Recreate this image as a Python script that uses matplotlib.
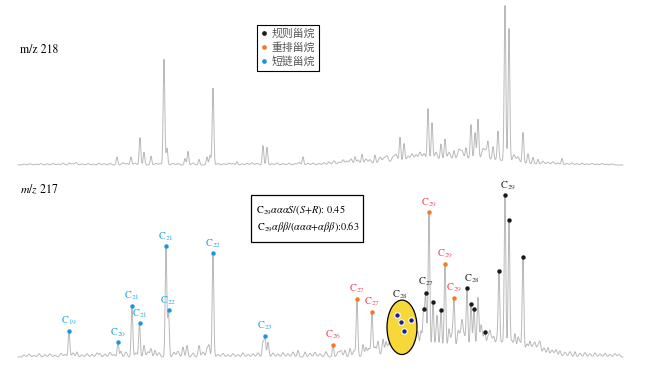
import numpy as np
import matplotlib.pyplot as plt
from matplotlib.patches import Ellipse, Rectangle
from matplotlib.lines import Line2D

plt.rcParams['font.family'] = ['STIXGeneral', 'Noto Sans CJK SC']
plt.rcParams['mathtext.fontset'] = 'stix'

# ---------------- m/z 218 trace ----------------
top_rt = [69, 117, 131, 140, 144, 151, 164, 167, 185, 188, 199, 207, 210, 213, 237,
          263, 267, 303, 355, 362, 375, 400, 404, 428, 432, 441, 445, 454, 466, 471,
          475, 478, 488, 493, 498, 505, 509, 523, 528, 533, 538, 562]
top_h = [1.3, 5, 5, 17, 8, 5.5, 66, 10.5, 4, 8.5, 3.5, 5, 6, 48, 2,
         12, 11, 5, 4.5, 6, 5, 15, 11, 32, 23, 9.5, 12.5, 5, 6.5, 21,
         16, 24.5, 9.5, 8, 18, 97, 83, 19, 6, 4, 3, 4]
top_grass_rt = [24, 30, 36, 41, 47, 53, 58, 63, 72, 76, 82, 88, 93, 99, 104, 110, 123,
                127, 135, 156, 160, 173, 178, 193, 218, 224, 229, 233, 242, 247, 252,
                257, 272, 277, 283, 289, 295, 299, 308, 313, 319, 324, 329, 334, 339,
                343, 347, 351, 358, 366, 370, 380, 384, 387, 393, 396, 408, 412, 416,
                420, 424, 436, 449, 459, 462, 483, 486, 514, 518, 543, 548, 553, 558,
                567, 572, 577, 582, 587, 592, 597, 602, 607, 612, 617]
top_grass_h = [0.6, 0.8, 0.5, 0.9, 0.7, 1.0, 0.6, 1.2, 0.8, 1.5, 0.7, 0.9, 0.6, 1.1, 0.8,
               1.0, 1.4, 0.9, 1.2, 1.0, 0.8, 1.1, 0.9, 1.3, 1.0, 0.8, 1.2, 0.9, 0.7, 1.0,
               1.4, 1.1, 0.8, 1.3, 0.9, 1.2, 0.8, 1.5, 1.0, 1.2, 0.9, 1.4, 1.8, 2.5, 1.6,
               3.0, 2.2, 3.4, 2.6, 3.0, 2.4, 3.6, 2.8, 4.0, 3.2, 4.5, 3.0, 4.2, 3.5, 5.0,
               4.0, 4.5, 4.0, 5.5, 4.5, 6.0, 5.0, 4.5, 3.5, 2.0, 1.5, 1.8, 1.2, 1.0, 1.3,
               0.8, 1.1, 0.7, 1.0, 0.6, 0.9, 0.5, 0.7]
top_hump_rt = [420, 480]
top_hump_h = [2.5, 3.5]
top_hump_w = [35, 30]

# ---------------- m/z 217 trace ----------------
# marked steranes: retention, height, group
mk_rt = [69, 118, 132, 139.5, 166, 168.5, 213, 265,
         333, 357, 372, 429, 445, 454,
         423.5, 425.5, 433, 441, 467, 471, 474, 485, 499, 505, 509, 523,
         397, 401, 404, 411]
mk_h = [16, 9, 31, 20.5, 67, 28, 63, 12,
        7.5, 35, 26, 81, 51, 28,
        23, 30, 28, 23, 35, 26, 23, 8, 46, 94, 79, 57,
        20, 17, 12, 18]
mk_cls = ['short'] * 8 + ['rearr'] * 6 + ['reg'] * 12 + ['circ'] * 4

bot_rt = [77, 100, 121, 144, 151, 155, 183, 187, 199, 207, 209, 263, 268, 298, 305,
          345, 350, 363, 366, 378, 383, 386, 392, 395, 399, 407, 414, 418, 421, 437,
          449, 458, 462, 478, 481, 490, 494, 515, 518, 530, 535, 540, 548, 560, 575]
bot_h = [3, 2, 3.5, 7, 5, 4, 6, 7, 7, 5, 7, 9, 9, 4, 3,
         4, 5, 7, 5, 8, 9, 7, 10, 14, 11, 9, 7, 9, 11, 14,
         11, 8, 13, 30, 12, 8, 6, 10, 7, 6, 5, 6, 4, 3, 3]
bot_grass_rt = [24, 29, 34, 39, 45, 50, 55, 61, 65, 73, 82, 87, 92, 97, 105, 110, 114,
                126, 136, 148, 159, 174, 178, 193, 203, 218, 223, 228, 233, 238, 243,
                248, 253, 258, 273, 278, 283, 288, 293, 310, 315, 320, 326, 338, 341,
                354, 369, 375, 389, 416, 427, 437, 452, 460, 464, 483, 488, 492, 497,
                502, 512, 520, 527, 533, 538, 544, 552, 556, 565, 570, 580, 585, 590,
                595, 600, 605, 610, 615, 619]
bot_grass_h = [1.2, 1.8, 1.0, 2.0, 1.4, 1.9, 1.1, 2.2, 1.5, 2.5, 1.3, 2.0, 1.6, 2.4, 1.8,
               2.8, 1.5, 3.0, 2.5, 3.2, 2.6, 2.8, 3.5, 2.4, 3.0, 1.6, 2.2, 1.4, 2.0, 1.5,
               2.4, 1.6, 2.0, 2.6, 2.4, 1.8, 2.6, 2.0, 3.0, 2.2, 2.8, 2.0, 3.2, 3.0, 3.8,
               3.5, 4.5, 5.0, 6.0, 6.5, 7.0, 6.0, 7.5, 6.5, 7.0, 6.0, 7.0, 5.5, 6.5, 5.0,
               6.0, 5.0, 4.5, 4.0, 4.5, 3.5, 3.0, 3.5, 2.5, 3.0, 2.2, 2.6, 2.0, 2.4, 1.8,
               2.2, 1.6, 2.0, 1.5]
bot_hump_rt = [415, 470, 525]
bot_hump_h = [4, 6, 3]
bot_hump_w = [25, 25, 20]

# labels of the first 14 marked peaks
lab_text = ['C$_{19}$', 'C$_{20}$', 'C$_{21}$', 'C$_{21}$', 'C$_{21}$', 'C$_{22}$', 'C$_{22}$', 'C$_{23}$',
            'C$_{26}$', 'C$_{27}$', 'C$_{27}$', 'C$_{29}$', 'C$_{29}$', 'C$_{29}$']
legend_text = ['规则甾烷', '重排甾烷', '短链甾烷']
ratio_text = [r'C$_{29}$$\alpha\alpha\alpha S/(S$+$R)$: 0.45',
              r'C$_{29}$$\alpha\beta\beta/(\alpha\alpha\alpha$+$\alpha\beta\beta)$:0.63']

dot_col = {'reg': '#1a1a1a', 'rearr': '#f47920', 'short': '#1b96de', 'circ': '#1f1f8a'}
lab_col = {'reg': '#333333', 'rearr': '#ef4f63', 'short': '#2aa8e0'}
line_col = '#b9b9b9'

x = np.arange(18, 623, 0.2)


def trace(rt, h, s):
    y = np.zeros_like(x)
    for c, a in zip(rt, h):
        y += a * np.exp(-0.5 * ((x - c) / s) ** 2)
    return y


def hump(rt, h, w):
    y = np.zeros_like(x)
    for c, a, ww in zip(rt, h, w):
        y += a * np.exp(-0.5 * ((x - c) / ww) ** 2)
    return y


y_top = trace(top_rt, top_h, 0.8) + trace(top_grass_rt, top_grass_h, 1.3) + hump(top_hump_rt, top_hump_h, top_hump_w)
y_bot = (trace(mk_rt, mk_h, 0.8) + trace(bot_rt, bot_h, 0.9) + trace(bot_grass_rt, bot_grass_h, 1.2)
         + hump(bot_hump_rt, bot_hump_h, bot_hump_w))

W, H = 645, 374
fig = plt.figure(figsize=(6.45, 3.74), dpi=100)

ax1 = fig.add_axes([0, 1 - 175 / H, 1, 175 / H])
ax1.plot(x, y_top, color=line_col, lw=0.7)
ax1.set_xlim(0, W)
ax1.set_ylim(-6.25, 103.1)
ax1.axis('off')

ax2 = fig.add_axes([0, 0, 1, 194 / H])
ax2.plot(x, y_bot, color=line_col, lw=0.7)
ax2.set_xlim(0, W)
ax2.set_ylim(-10.3, 107.3)
ax2.axis('off')

# circled C28 group
ax2.add_patch(Ellipse((402, 18), 30, 33, fc='#f7d83a', ec='black', lw=0.9, zorder=3))

# dots
for rt, cls in zip(mk_rt, mk_cls):
    yy = np.interp(rt, x, y_bot)
    if cls == 'circ':
        ax2.plot(rt, yy, 'o', ms=4.0, color=dot_col[cls], mec='white', mew=0.8, zorder=5)
    else:
        ax2.plot(rt, yy, 'o', ms=3.2, color=dot_col[cls], mew=0, zorder=5)

for i, t in enumerate(lab_text):
    cls = mk_cls[i]
    yy = np.interp(mk_rt[i], x, y_bot)
    ax2.annotate(t, (mk_rt[i], yy), xytext=(0, 7), textcoords='offset points',
                 ha='center', va='center', fontsize=7.5, color=lab_col[cls])

# group labels
ax2.text(400, 38, 'C$_{28}$', ha='center', va='center', fontsize=7.5, color='#333333')
ax2.text(426, 45.5, 'C$_{27}$', ha='center', va='center', fontsize=7.5, color='#333333')
ax2.text(472, 47.5, 'C$_{28}$', ha='center', va='center', fontsize=7.5, color='#333333')
ax2.text(508, 104, 'C$_{29}$', ha='center', va='center', fontsize=7.5, color='#333333')

# trace titles
fig.text(20 / W, 1 - 50 / H, 'm/z 218', fontsize=8.5, va='center')
fig.text(20 / W, 1 - 190 / H, '$m/z$ 217', fontsize=8.5, va='center')

# legend
handles = [Line2D([], [], ls='none', marker='o', ms=3.4, mew=0, color=dot_col[k])
           for k in ['reg', 'rearr', 'short']]
leg = fig.legend(handles, legend_text, loc='upper left', bbox_to_anchor=(257 / W, 1 - 25 / H),
                 prop={'family': 'Noto Sans CJK SC', 'size': 7.8}, frameon=True, fancybox=False,
                 edgecolor='black', framealpha=1, handlelength=0.6, handletextpad=0.4,
                 borderpad=0.35, labelspacing=0.3, borderaxespad=0)
leg.get_frame().set_linewidth(0.8)
for t in leg.get_texts():
    t.set_color('#555555')

# ratio box
fig.patches.append(Rectangle((251 / W, 1 - 242 / H), 112 / W, 47 / H, transform=fig.transFigure,
                             fc='white', ec='black', lw=0.9))
fig.text(256 / W, 1 - 210 / H, ratio_text[0], fontsize=7.4, va='center')
fig.text(257 / W, 1 - 227 / H, ratio_text[1], fontsize=7.4, va='center')

fig.savefig('out.png', dpi=100)
